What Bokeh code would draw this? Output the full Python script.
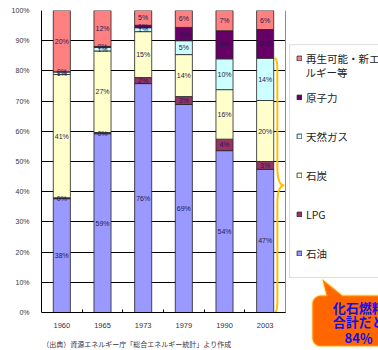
import numpy as np
from bokeh.plotting import figure
from bokeh.models import (ColumnDataSource, FixedTicker, Legend, LegendItem, Label,
                          LabelSet, PolyAnnotation, BoxAnnotation)
from bokeh.core.properties import value
from bokeh.embed import file_html
from bokeh.resources import INLINE

# Japan primary energy supply mix (%), by fiscal year
years = ["1960", "1965", "1973", "1979", "1990", "2003"]
series_names = ["石油", "LPG", "石炭", "天然ガス", "原子力", "再生可能・新エネ"]
renew_name_tail = "ルギー等"
oil     = [37.7, 59.2, 75.8, 68.9, 53.6, 47.4]
lpg     = [0.3, 0.4, 2.0, 2.6, 3.8, 2.6]
coal    = [40.8, 27.0, 15.2, 13.9, 16.4, 20.2]
gas     = [0.9, 1.2, 1.3, 4.6, 10.2, 14.0]
nuclear = [0.0, 0.3, 0.8, 4.4, 9.3, 9.5]
renew   = [20.3, 11.9, 4.9, 5.6, 6.7, 6.3]
y_ticks = [0, 10, 20, 30, 40, 50, 60, 70, 80, 90, 100]
source_note = "（出典）資源エネルギー庁「総合エネルギー統計」より作成"

keys = ["oil", "lpg", "coal", "gas", "nuclear", "renew"]
values = [oil, lpg, coal, gas, nuclear, renew]
colors = ["#9999FF", "#993366", "#FFFFCC", "#CCFFFF", "#660066", "#FF8080"]

JP = "Noto Sans CJK JP"
NUM = "Liberation Sans"

n_cat = len(years)
xpos = np.arange(n_cat) + 0.5
data = {"x": xpos}
for k, v in zip(keys, values):
    data[k] = v
src = ColumnDataSource(data)

# the frame runs to the right and bottom edges so the legend, the callout
# and the source note can sit beside / below the bar area
p = figure(width=378, height=350, x_range=(0, 8.287), y_range=(-12.58, 100),
           output_backend="svg", toolbar_location=None,
           min_border_left=41, min_border_right=0, min_border_top=10,
           min_border_bottom=0)
p.background_fill_color = "white"
p.border_fill_color = "white"
p.outline_line_color = None

# horizontal grid in black, behind the bars, only across the bar area
p.xgrid.visible = False
p.ygrid.ticker = FixedTicker(ticks=y_ticks)
p.ygrid.grid_line_color = "black"
p.ygrid.grid_line_width = 1
p.ygrid.level = "underlay"
p.ygrid.cross_bounds = (0, n_cat)

# y axis in percent
p.yaxis.ticker = FixedTicker(ticks=y_ticks)
p.yaxis.bounds = (0, 100)
p.yaxis.major_label_overrides = {t: f"{t}%" for t in y_ticks}
p.yaxis.major_tick_line_color = None
p.yaxis.minor_tick_line_color = None
p.yaxis.axis_line_color = "black"
p.yaxis.major_label_standoff = 6
p.yaxis.major_label_text_font = NUM
p.yaxis.major_label_text_font_size = "7px"
p.yaxis.major_label_text_color = "#333344"

# x axis: year labels at bar centres, small ticks between categories
p.xaxis.ticker = FixedTicker(ticks=list(xpos), minor_ticks=list(range(1, n_cat)))
p.xaxis.bounds = (0, n_cat)
p.xaxis.fixed_location = 0
p.xaxis.major_label_overrides = {float(x): y for x, y in zip(xpos, years)}
p.xaxis.major_tick_line_color = None
p.xaxis.minor_tick_line_color = "black"
p.xaxis.minor_tick_in = 3
p.xaxis.minor_tick_out = 0
p.xaxis.axis_line_color = "black"
p.xaxis.major_label_standoff = 4
p.xaxis.major_label_text_font = NUM
p.xaxis.major_label_text_font_size = "7.5px"
p.xaxis.major_label_text_color = "#333344"

# right border of the bar area
p.segment(x0=[n_cat], y0=[0], x1=[n_cat], y1=[100], line_color="#8c8c8c", line_width=1)

renderers = p.vbar_stack(keys, x="x", width=0.42, color=colors, source=src,
                         line_color="#222222", line_width=0.8)

# value labels at segment centres
arr = np.array(values)
bottoms = np.vstack([np.zeros(arr.shape[1]), np.cumsum(arr, axis=0)[:-1]])
centers = bottoms + arr / 2
lab_x, lab_y, lab_t = [], [], []
for i in range(arr.shape[0]):
    for j in range(arr.shape[1]):
        lab_x.append(xpos[j])
        lab_y.append(centers[i, j])
        lab_t.append(f"{int(round(arr[i, j]))}%")
labels = LabelSet(x="x", y="y", text="t",
                  source=ColumnDataSource(dict(x=lab_x, y=lab_y, t=lab_t)),
                  text_align="center", text_baseline="middle",
                  text_font=value(NUM), text_font_size="7px", text_color="#1c1c50")
p.add_layout(labels)

# brace spanning the fossil-fuel share of the latest year
fossil = oil[-1] + lpg[-1] + coal[-1] + gas[-1]
mid = fossil / 2

def qcurve(p0, c, p1, n=12):
    t = np.linspace(0, 1, n)[:, None]
    p0, c, p1 = map(np.array, (p0, c, p1))
    return (1 - t) ** 2 * p0 + 2 * (1 - t) * t * c + t ** 2 * p1

xb, xl, xt = 5.80, 5.73, 5.97
pts = np.vstack([
    qcurve((xl, fossil), (xb, fossil), (xb, fossil - 4)),
    qcurve((xb, mid + 6), (xb, mid), (xt, mid)),
    qcurve((xt, mid), (xb, mid), (xb, mid - 6)),
    qcurve((xb, 4), (xb, 0), (xl, 0)),
])
p.line(pts[:, 0], pts[:, 1], line_color="#FFC000", line_width=2)

# callout bubble
def rounded_box(x0, x1, y0, y1, rx, ry, n=6):
    xs, ys = [], []
    corners = [(x1 - rx, y1 - ry, 0), (x0 + rx, y1 - ry, 90),
               (x0 + rx, y0 + ry, 180), (x1 - rx, y0 + ry, 270)]
    for cx, cy, a0 in corners:
        a = np.radians(np.linspace(a0, a0 + 90, n))
        xs += list(cx + rx * np.cos(a))
        ys += list(cy + ry * np.sin(a))
    return xs, ys

bx, by = rounded_box(6.66, 8.7, -11.2, 5.6, 0.2, 2.7)
# pointer on the top edge
top_idx = len(bx) // 4
ptr_x = [7.40, 6.91, 7.01]
ptr_y = [5.6, 10.9, 5.6]
bx = bx[:top_idx] + ptr_x + bx[top_idx:]
by = by[:top_idx] + ptr_y + by[top_idx:]
bubble = PolyAnnotation(xs=bx, ys=by, fill_color="#FF6600", fill_alpha=1,
                        line_color="#FFCC00", line_width=2.5)
p.add_layout(bubble)

for txt, yy in [("化石燃料", 1.7), ("合計だと", -3.0), (f"{int(round(fossil))}％", -8.3)]:
    p.add_layout(Label(x=7.80, y=yy, text=txt, text_align="center",
                       text_baseline="middle", text_font=JP,
                       text_font_size="13px", text_font_style="bold",
                       text_color="#1010E8"))

p.add_layout(Label(x=0.02, y=-10.3, text=source_note, text_baseline="middle",
                   text_font=JP, text_font_size="7px", text_color="#333344"))

# legend frame, then the legend entries inside it
p.add_layout(BoxAnnotation(left=6.10, right=9.0, top=88.7, bottom=11.6,
                           fill_color="white", fill_alpha=1,
                           line_color="#8c8c8c", line_width=1))

items = [LegendItem(label=n, renderers=[r])
         for n, r in zip(series_names[::-1], renderers[::-1])]
legend = Legend(items=items, location=(255, 87), padding=0, spacing=19,
                label_height=20, glyph_width=6, glyph_height=6, label_standoff=4,
                label_text_font=JP, label_text_font_size="10.5px",
                label_text_color="#222222", border_line_color=None,
                background_fill_alpha=0)
p.add_layout(legend)

p.add_layout(Label(x=6.49, y=79.5, text=renew_name_tail, text_baseline="middle",
                   text_font=JP, text_font_size="10.5px", text_color="#222222"))

open("out.html", "w").write(file_html(p, INLINE))
